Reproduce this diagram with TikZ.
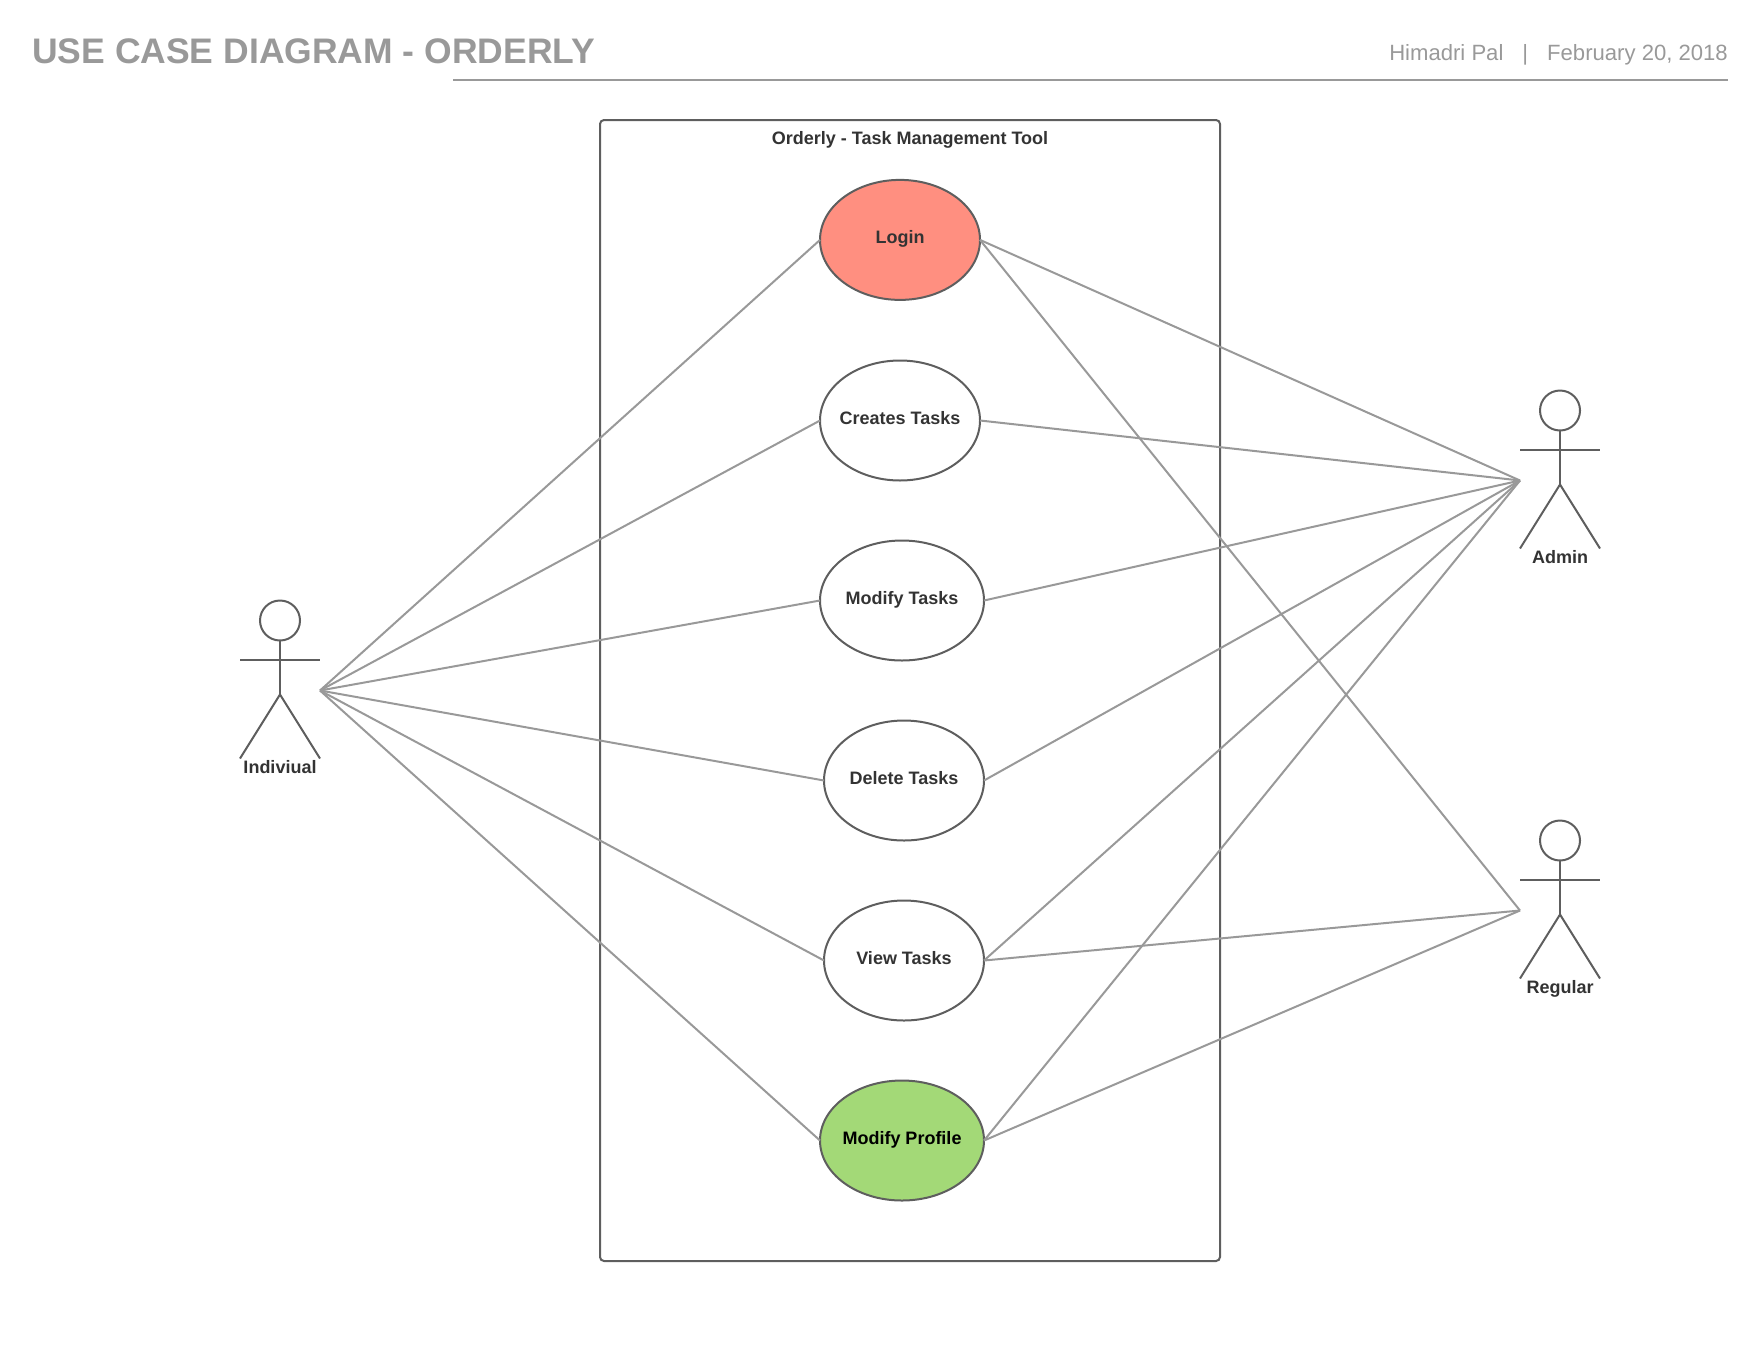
\documentclass[tikz,border=0pt]{standalone}
\usepackage{fontspec}
\setmainfont{Liberation Sans}
\usetikzlibrary{shapes.geometric}
\definecolor{linegrey}{HTML}{999999}
\definecolor{shapegrey}{HTML}{5E5E5E}
\definecolor{textgrey}{HTML}{333333}
\definecolor{loginred}{HTML}{FF8F80}
\definecolor{profilegreen}{HTML}{A3D977}
\newcommand{\casename}[1]{\makebox[0pt]{#1}}
\tikzset{
    usecase/.style={ellipse, draw=shapegrey, line width=2pt, minimum height=120pt, inner sep=0pt, outer sep=0pt,
        text=textgrey, text height=12pt, text depth=5pt, font=\fontsize{18}{22}\selectfont\bfseries},
    head/.style={circle, draw=shapegrey, line width=2pt, minimum size=40pt, inner sep=0pt, outer sep=0pt},
    limb/.style={draw=shapegrey, line width=2pt},
    actorname/.style={text=textgrey, inner sep=0pt, text height=13pt, text depth=4pt, font=\fontsize{18}{22}\selectfont\bfseries},
    link/.style={draw=linegrey, line width=2pt}
}
\begin{document}
\begin{tikzpicture}[x=1pt,y=-1pt]
    \useasboundingbox (0,-0.5) rectangle (1760,1359.5);
    % header
    \node (heading) [anchor=base west, inner sep=0pt, text=linegrey, font=\fontsize{35.5}{40}\selectfont\bfseries] at (32,63) {USE CASE DIAGRAM - ORDERLY};
    \node (byline) [anchor=base east, inner sep=0pt, text=linegrey, font=\fontsize{22.1}{26}\selectfont] at (1728,60) {Himadri Pal\hspace{19pt}|\hspace{19pt}February 20, 2018};
    \coordinate (rulestart) at (453,79.4);
    \coordinate (ruleend) at (1728,79.4);
    \draw[link] (rulestart) -- (ruleend);
    % system boundary
    \draw[draw=shapegrey, line width=2pt, rounded corners=4pt] (600,119.5) rectangle (1220,1260.5);
    \node (system) [actorname] at (910,139) {Orderly - Task Management Tool};
    % use cases
    \node (login) [usecase, minimum width=160pt, fill=loginred] at (900,239.4) {\casename{Login}};
    \node (creates) [usecase, minimum width=160pt] at (900,420) {\casename{Creates Tasks}};
    \node (modify) [usecase, minimum width=164pt] at (902,600) {\casename{Modify Tasks}};
    \node (delete) [usecase, minimum width=160pt] at (904,780) {\casename{Delete Tasks}};
    \node (view) [usecase, minimum width=160pt] at (904,960) {\casename{View Tasks}};
    \node (profile) [usecase, minimum width=164pt, fill=profilegreen, text=black] at (902,1140) {\casename{Modify Profile}};
    % individual
    \node (indhead) [head] at (280,620) {};
    \coordinate (indhip) at (280,694);
    \coordinate (indhand) at (320,690);
    \draw[limb] (indhead.south) -- (indhip);
    \draw[limb] (240,659) -- (320,659);
    \draw[limb] (240,758) -- (indhip) -- (320,758);
    \node (indname) [actorname] at (280,768.5) {Indiviual};
    % admin
    \node (admhead) [head] at (1560,410) {};
    \coordinate (admhip) at (1560,484);
    \coordinate (admhand) at (1520,480);
    \draw[limb] (admhead.south) -- (admhip);
    \draw[limb] (1520,449) -- (1600,449);
    \draw[limb] (1520,548) -- (admhip) -- (1600,548);
    \node (admname) [actorname] at (1560,558.5) {Admin};
    % regular
    \node (reghead) [head] at (1560,840) {};
    \coordinate (reghip) at (1560,914);
    \coordinate (reghand) at (1520,910);
    \draw[limb] (reghead.south) -- (reghip);
    \draw[limb] (1520,879) -- (1600,879);
    \draw[limb] (1520,978) -- (reghip) -- (1600,978);
    \node (regname) [actorname] at (1560,988.5) {Regular};
    % connectors
    \draw[link] (indhand) -- (login.west);
    \draw[link] (indhand) -- (creates.west);
    \draw[link] (indhand) -- (modify.west);
    \draw[link] (indhand) -- (delete.west);
    \draw[link] (indhand) -- (view.west);
    \draw[link] (indhand) -- (profile.west);
    \draw[link] (login.east) -- (admhand);
    \draw[link] (creates.east) -- (admhand);
    \draw[link] (modify.east) -- (admhand);
    \draw[link] (delete.east) -- (admhand);
    \draw[link] (view.east) -- (admhand);
    \draw[link] (profile.east) -- (admhand);
    \draw[link] (login.east) -- (reghand);
    \draw[link] (view.east) -- (reghand);
    \draw[link] (profile.east) -- (reghand);
\end{tikzpicture}
\end{document}
